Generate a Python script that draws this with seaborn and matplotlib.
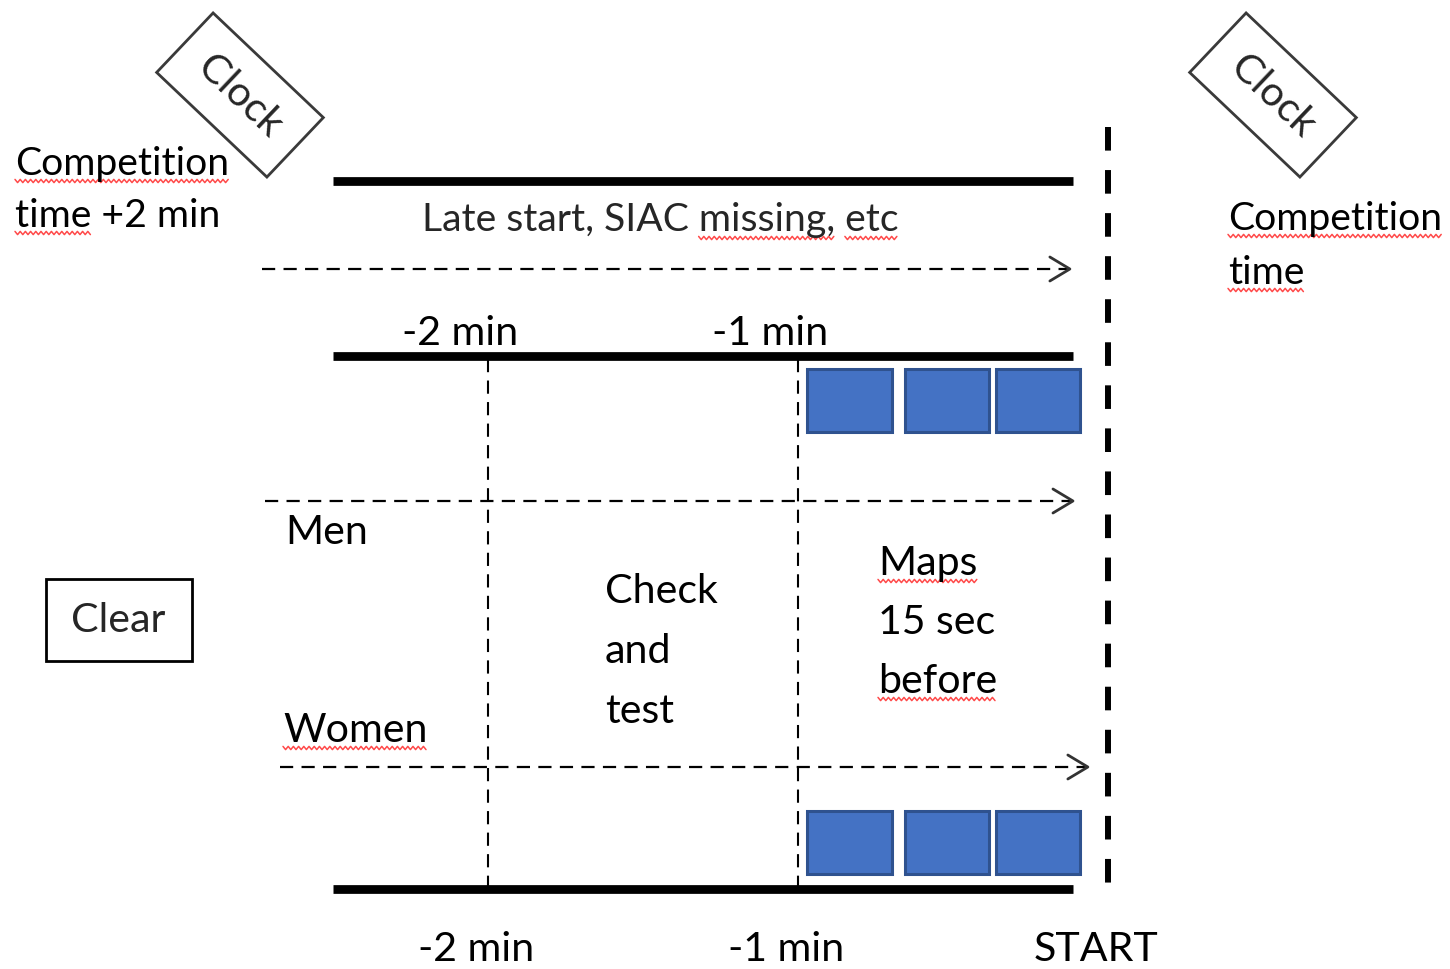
import numpy as np
import pandas as pd
import seaborn as sns
import matplotlib.pyplot as plt
from matplotlib.patches import Rectangle
from matplotlib.transforms import Affine2D

# timeline of the start, in minutes (0 = START)
mark_minutes = [-2, -1, 0]
top_labels = ["-2 min", "-1 min"]
bottom_labels = ["-2 min", "-1 min", "START"]

timeline_from = -2.5
timeline_to = -0.113

# three map slots just before the start (minutes), each ~15 sec
map_slots = [-0.97, -0.655, -0.362]
map_len = 0.272

# dashed arrows (from, to) in minutes
arrow_spans = [(-2.73, -0.123), (-2.72, -0.113), (-2.67, -0.065)]

# layout in pixels
W, H = 1450, 970
X_START, PPM = 1108, 310
timeline_rows = [182, 357, 890]
arrow_rows = [270, 502, 768]
map_rows = [(370, 433), (812, 875)]


def px(t):
    return X_START + PPM * t


sns.set_theme(style="white")
plt.rcParams["font.family"] = ["Lato", "DejaVu Sans"]
plt.rcParams["lines.scale_dashes"] = False

fig = plt.figure(figsize=(14.5, 9.7), dpi=100)
ax = fig.add_axes([0, 0, 1, 1])
r = fig.canvas.get_renderer()


def text_width(s, size):
    t = ax.text(0, 0, s, fontsize=size)
    w = t.get_window_extent(r).width
    t.remove()
    return w


FS_LATE = 10 * 475 / text_width("Late start, SIAC missing, etc", 10)
FS = FS_LATE * 1.05


def squiggle(x0, x1, y):
    xs = np.arange(x0, x1, 2.6)
    ys = y + np.where(np.arange(len(xs)) % 2, 1.6, -1.6)
    ax.plot(xs, ys, color="#ff4a4a", lw=1.1)


def word(x, y, s, under=False, ha="left", size=None):
    size = size or FS
    ax.text(x, y, s, fontsize=size, va="baseline", ha=ha, color="black")
    if under:
        squiggle(x, x + text_width(s, size), y + 7)


# thick timelines
lines = pd.DataFrame({
    "x": [px(timeline_from), px(timeline_to)] * 3,
    "y": [y for y in timeline_rows for _ in range(2)],
    "row": [i for i in range(3) for _ in range(2)],
})
sns.lineplot(data=lines, x="x", y="y", units="row", estimator=None,
             color="black", lw=6.3, sort=False, ax=ax, legend=False,
             solid_capstyle="butt")
ax.set_xlim(0, W)
ax.set_ylim(H, 0)
ax.axis("off")

# START dashed line
ax.plot([X_START, X_START], [128, 890], color="black", lw=4.3,
        dashes=(17, 14), dash_capstyle="butt")

# -2 / -1 min dashed verticals
for m in mark_minutes[:2]:
    ax.plot([px(m), px(m)], [360, 888], color="black", lw=1.5,
            dashes=(9.5, 6))

# dashed arrows with open heads
for (a, b), y in zip(arrow_spans, arrow_rows):
    ax.plot([px(a), px(b) - 2], [y, y], color="black", lw=1.6, dashes=(9.5, 6))
    xe = px(b)
    ax.plot([xe - 20, xe, xe - 20], [y - 12, y, y + 12], color="#333333", lw=2)

# map slots
for y0, y1 in map_rows:
    for s in map_slots:
        ax.add_patch(Rectangle((px(s), y0), PPM * map_len, y1 - y0,
                               fc="#4472C4", ec="#2F528F", lw=2.2))

# labels on the time axis
for m, lab in zip(mark_minutes, top_labels):
    word(px(m) - 28, 345, lab, ha="center")
for m, lab in zip(mark_minutes, bottom_labels):
    word(px(m) - 12, 961, lab, ha="center")

# late start text
late = "Late start, SIAC missing, etc"
lw_full = text_width(late, FS_LATE)
lx = 660 - lw_full / 2
ax.text(lx, 231, late, fontsize=FS_LATE, va="baseline")
mx = lx + text_width("Late start, SIAC missing,", FS_LATE) - text_width("missing,", FS_LATE)
squiggle(mx, mx + text_width("missing,", FS_LATE), 239)
ex = lx + lw_full - text_width("etc", FS_LATE)
squiggle(ex, ex + text_width("etc", FS_LATE), 239)

# groups
word(285, 544, "Men")
word(283, 742, "Women", under=True)

for i, s in enumerate(["Check", "and", "test"]):
    word(605, 603 + 60 * i, s)
for i, (s, u) in enumerate([("Maps", True), ("15 sec", False), ("before", True)]):
    word(878, 575 + 59 * i, s, under=u)

# competition time notes
word(15, 175, "Competition", under=True, size=FS_LATE)
word(15, 227, "time +2 min", size=FS_LATE)
squiggle(15, 15 + text_width("time", FS_LATE), 234)
word(1228, 230, "Competition", under=True, size=FS_LATE)
word(1228, 284, "time", under=True, size=FS_LATE)

# clear box
ax.add_patch(Rectangle((46, 580), 146, 82, fc="white", ec="black", lw=2))
ax.text(118, 621, "Clear", fontsize=FS, ha="center", va="center")

# rotated clock boxes
for cx, cy in [(240, 96), (1273, 96)]:
    box = Rectangle((-76, -41), 152, 82, fc="white", ec="#3a3a3a", lw=2,
                    transform=Affine2D().rotate_deg(43.5).translate(cx, cy) + ax.transData)
    ax.add_patch(box)
    ax.text(cx, cy, "Clock", fontsize=FS, rotation=-43.5, rotation_mode="anchor",
            ha="center", va="center")

fig.savefig("out.png", dpi=100)
